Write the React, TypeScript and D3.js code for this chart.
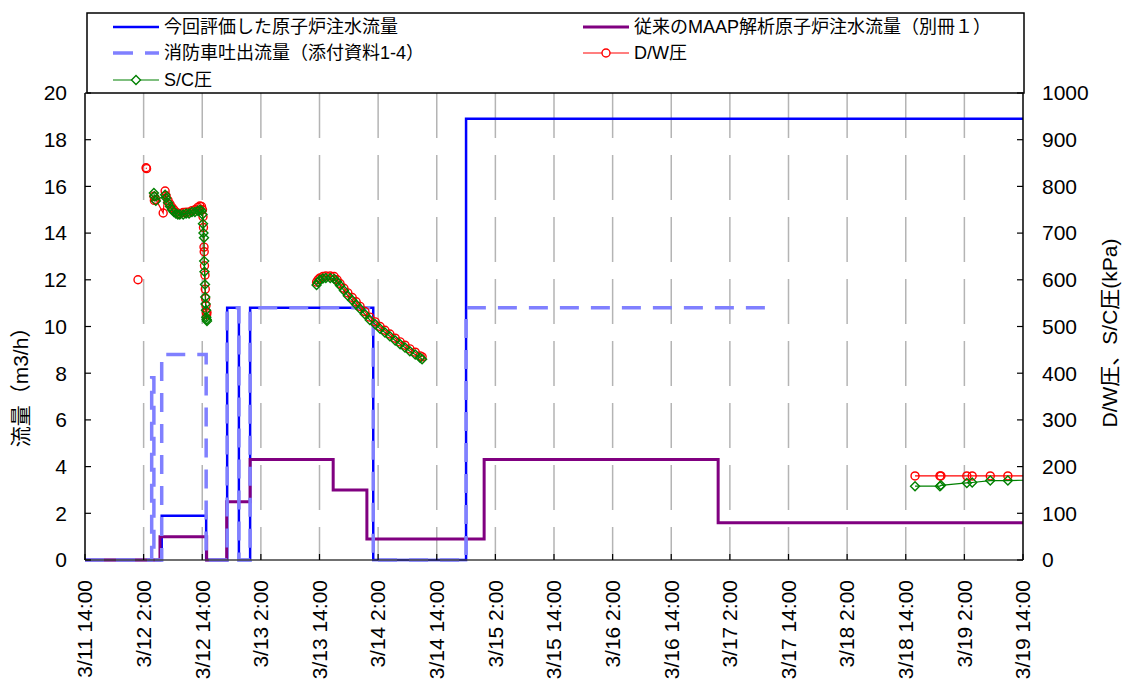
import * as d3 from "d3";

// hours from 3/11 14:00
const xTickLabels = [
  "3/11 14:00", "3/12 2:00", "3/12 14:00", "3/13 2:00", "3/13 14:00",
  "3/14 2:00", "3/14 14:00", "3/15 2:00", "3/15 14:00", "3/16 2:00",
  "3/16 14:00", "3/17 2:00", "3/17 14:00", "3/18 2:00", "3/18 14:00",
  "3/19 2:00", "3/19 14:00",
];
const leftTicks = [0, 2, 4, 6, 8, 10, 12, 14, 16, 18, 20];
const rightTicks = [0, 100, 200, 300, 400, 500, 600, 700, 800, 900, 1000];

// 今回評価した原子炉注水流量 (step after)
const evalHours = [0, 15.7, 24.8, 29.1, 31.5, 33.8, 59.0, 78.0, 192];
const evalFlow = [0, 1.9, 0, 10.8, 0, 10.8, 0, 18.9, 18.9];

// 従来のMAAP解析原子炉注水流量
const maapHours = [0, 15.35, 24.9, 29.0, 33.8, 50.8, 57.7, 81.7, 129.6, 192];
const maapFlow = [0, 1.0, 0, 2.5, 4.3, 3.0, 0.9, 4.3, 1.6, 1.6];

// 消防車吐出流量
const pumpHours = [0, 13.65, 14.1, 15.7, 24.8, 29.1, 31.5, 33.8, 59.0, 78.0, 141.2];
const pumpFlow = [0, 7.8, 0, 8.8, 0, 10.8, 0, 10.8, 0, 10.8, 10.8];

// D/W圧 (null = gap)
const dwHours = [
  10.85, 11.5, 12.5, 12.6, 13.2,
  14.1, 14.2, 14.5, 16.0, 16.4, 16.6, 17.0, 17.4, 17.8, 18.2, 18.6, 19.0, 19.4, 20.1, 20.7,
  21.3, 21.9, 22.5, 23.1, 23.5, 23.85, 24.05, 24.15, 24.25, 24.36, 24.4, 24.46, 24.56, 24.62,
  24.68, 24.77, 24.83, 24.9, 24.97, 30,
  47.4, 47.7, 48.1, 48.7, 49.3, 50.2, 51.0, 51.6, 52.2, 53.0, 53.8, 54.7, 55.5, 56.3, 57.3,
  58.3, 59.4, 60.4, 61.4, 62.4, 63.5, 64.5, 65.5, 66.5, 67.6, 68.6, 69.0, 100,
  169.9, 175.0, 175.2, 180.5, 181.6, 185.3, 188.9, 193,
];
const dwKPa = [
  600, null, 840, 838, null,
  779, 770, 772, 743, 790, 780, 770, 762, 755, 750, 745, 742, 742, 744, 745,
  745, 748, 750, 755, 758, 757, 750, 735, 712, 670, 660, 630, 610, 580,
  560, 545, 530, 525, 530, null,
  595, 600, 604, 607, 608, 608, 607, 600, 592, 582, 572, 562, 553, 543, 532,
  520, 510, 500, 492, 484, 475, 467, 460, 452, 445, 437, 435, null,
  180, 180, 180, 180, 180, 180, 180, 180,
];

// S/C圧
const scHours = [
  14.1, 14.2, 14.5, 16.4, 16.6, 17.0, 17.4, 17.8, 18.2, 18.6, 19.0, 19.4, 20.1, 20.7,
  21.3, 21.9, 22.5, 23.1, 23.5, 23.85, 24.05, 24.15, 24.25, 24.36, 24.4, 24.46, 24.56, 24.62,
  24.68, 24.77, 24.83, 24.9, 24.97, 30,
  47.4, 47.7, 48.1, 48.7, 49.3, 50.2, 51.0, 51.6, 52.2, 53.0, 53.8, 54.7, 55.5, 56.3, 57.3,
  58.3, 59.4, 60.4, 61.4, 62.4, 63.5, 64.5, 65.5, 66.5, 67.6, 68.6, 69.0, 100,
  169.9, 175.0, 175.2, 180.5, 181.6, 185.3, 188.9, 193,
];
const scKPa = [
  786, 779, 769, 782, 775, 765, 757, 750, 745, 742, 740, 740, 740, 742,
  742, 745, 745, 748, 750, 748, 740, 720, 700, 690, 640, 617, 590, 563,
  548, 535, 520, 515, 512, null,
  589, 595, 600, 603, 604, 604, 602, 596, 588, 577, 566, 556, 547, 538, 526,
  514, 505, 495, 487, 479, 470, 462, 455, 447, 440, 433, 430, null,
  158, 158, 160, 165, 166, 170, 170, 171,
];

const legendItems = [
  { label: "今回評価した原子炉注水流量", col: 0, row: 0, kind: "blue" },
  { label: "従来のMAAP解析原子炉注水流量（別冊１）", col: 1, row: 0, kind: "purple" },
  { label: "消防車吐出流量（添付資料1-4）", col: 0, row: 1, kind: "pump" },
  { label: "D/W圧", col: 1, row: 1, kind: "dw" },
  { label: "S/C圧", col: 0, row: 2, kind: "sc" },
];

const W = 1122, H = 691;
const m = { left: 85, right: 1023, top: 93, bottom: 560 };
const FONT = "'Liberation Sans', Arial, 'Noto Sans CJK JP', sans-serif";

const BLUE = "#0000ff", PURPLE = "#800080", PUMP = "#8080ff", RED = "#ff0000", GREEN = "#008000";

const diamond = "M0,-4.5L4.5,0L0,4.5L-4.5,0Z";

export default function App() {
  const x = d3.scaleLinear().domain([0, 192]).range([m.left, m.right]);
  const yL = d3.scaleLinear().domain([0, 20]).range([m.bottom, m.top]);
  const yR = d3.scaleLinear().domain([0, 1000]).range([m.bottom, m.top]);

  const stepLine = (hs: number[], vs: number[]) =>
    d3.line<number>().x((_, i) => x(hs[i])).y((v) => yL(v)).curve(d3.curveStepAfter)(vs) ?? "";

  const pLine = (hs: number[], vs: (number | null)[]) =>
    d3.line<number | null>()
      .defined((v) => v !== null)
      .x((_, i) => x(hs[i]))
      .y((v) => yR(v as number))(vs) ?? "";

  const xTickHours = xTickLabels.map((_, i) => i * 12);

  const legendX = [113, 583];
  const legendY = [27, 53, 80];

  return (
    <div style={{ position: "absolute", left: 0, top: 0 }}>
      <svg width={W} height={H} style={{ display: "block", fontFamily: FONT }}>
        <rect width={W} height={H} fill="#fff" />
        <defs>
          <clipPath id="plotClip">
            <rect x={m.left} y={m.top} width={m.right - m.left} height={m.bottom - m.top + 2} />
          </clipPath>
        </defs>

        {/* vertical grid */}
        {xTickHours.slice(1, -1).map((h) => (
          <line key={h} x1={x(h)} x2={x(h)} y1={m.top} y2={m.bottom}
            stroke="#b4b4b4" strokeWidth={1.5} strokeDasharray="45 17" />
        ))}

        <g clipPath="url(#plotClip)">
          <path d={stepLine(evalHours, evalFlow)} fill="none" stroke={BLUE} strokeWidth={2.5} />
          <path d={stepLine(maapHours, maapFlow)} fill="none" stroke={PURPLE} strokeWidth={3} />
          <path d={stepLine(pumpHours, pumpFlow)} fill="none" stroke={PUMP} strokeWidth={3.5}
            strokeDasharray="19 12" />

          <path d={pLine(dwHours, dwKPa)} fill="none" stroke={RED} strokeWidth={1.2} />
          {dwKPa.map((v, i) => v === null ? null : (
            <circle key={i} cx={x(dwHours[i])} cy={yR(v)} r={4} fill="none" stroke={RED} strokeWidth={1.4} />
          ))}
          <path d={pLine(scHours, scKPa)} fill="none" stroke={GREEN} strokeWidth={1.2} />
          {scKPa.map((v, i) => v === null ? null : (
            <path key={i} d={diamond} transform={`translate(${x(scHours[i])},${yR(v)})`}
              fill="none" stroke={GREEN} strokeWidth={1.4} />
          ))}
        </g>

        {/* axes */}
        <line x1={m.left} x2={m.left} y1={m.top} y2={m.bottom} stroke="#000" strokeWidth={1.5} />
        <line x1={m.right} x2={m.right} y1={m.top} y2={m.bottom} stroke="#000" strokeWidth={1.5} />
        <line x1={m.left} x2={m.right} y1={m.bottom} y2={m.bottom} stroke="#404040" strokeWidth={1.5} />

        {leftTicks.map((t) => (
          <g key={t}>
            <line x1={m.left} x2={m.left + 6} y1={yL(t)} y2={yL(t)} stroke="#000" strokeWidth={1.2} />
            <text x={67} y={yL(t)} dy="0.35em" textAnchor="end" fontSize={21}>{t}</text>
          </g>
        ))}
        {rightTicks.map((t) => (
          <g key={t}>
            <line x1={m.right - 6} x2={m.right} y1={yR(t)} y2={yR(t)} stroke="#000" strokeWidth={1.2} />
            <text x={1042} y={yR(t)} dy="0.35em" textAnchor="start" fontSize={21}>{t}</text>
          </g>
        ))}
        {xTickHours.map((h, i) => (
          <g key={h}>
            <line x1={x(h)} x2={x(h)} y1={m.bottom - 6} y2={m.bottom} stroke="#000" strokeWidth={1.2} />
            <text transform={`translate(${x(h)},580) rotate(-90)`} dy="0.35em" textAnchor="end" fontSize={21}>
              {xTickLabels[i]}
            </text>
          </g>
        ))}

        <text transform="translate(21,382) rotate(-90)" dy="0.35em" textAnchor="middle" fontSize={21}>
          流量（m3/h）
        </text>
        <text transform="translate(1110,333) rotate(-90)" dy="0.35em" textAnchor="middle" fontSize={21}>
          D/W圧、S/C圧(kPa)
        </text>

        {/* legend */}
        <rect x={87} y={13} width={937} height={80} fill="none" stroke="#000" strokeWidth={1.5} />
        {legendItems.map((it) => {
          const lx = legendX[it.col];
          const ly = legendY[it.row];
          const x2 = lx + 46;
          const cx = (lx + x2) / 2;
          return (
            <g key={it.label}>
              {it.kind === "blue" && <line x1={lx} x2={x2} y1={ly} y2={ly} stroke={BLUE} strokeWidth={2.5} />}
              {it.kind === "purple" && <line x1={lx} x2={x2} y1={ly} y2={ly} stroke={PURPLE} strokeWidth={3} />}
              {it.kind === "pump" && <line x1={lx} x2={x2} y1={ly} y2={ly} stroke={PUMP} strokeWidth={3.5} strokeDasharray="20 12" />}
              {it.kind === "dw" && (
                <>
                  <line x1={lx} x2={x2} y1={ly} y2={ly} stroke={RED} strokeWidth={1.2} />
                  <circle cx={cx} cy={ly} r={4} fill="#fff" stroke={RED} strokeWidth={1.4} />
                </>
              )}
              {it.kind === "sc" && (
                <>
                  <line x1={lx} x2={x2} y1={ly} y2={ly} stroke={GREEN} strokeWidth={1.2} />
                  <path d={diamond} transform={`translate(${cx},${ly})`} fill="#fff" stroke={GREEN} strokeWidth={1.4} />
                </>
              )}
              <text x={x2 + 5} y={ly} dy="0.35em" fontSize={18}>{it.label}</text>
            </g>
          );
        })}
      </svg>
    </div>
  );
}
